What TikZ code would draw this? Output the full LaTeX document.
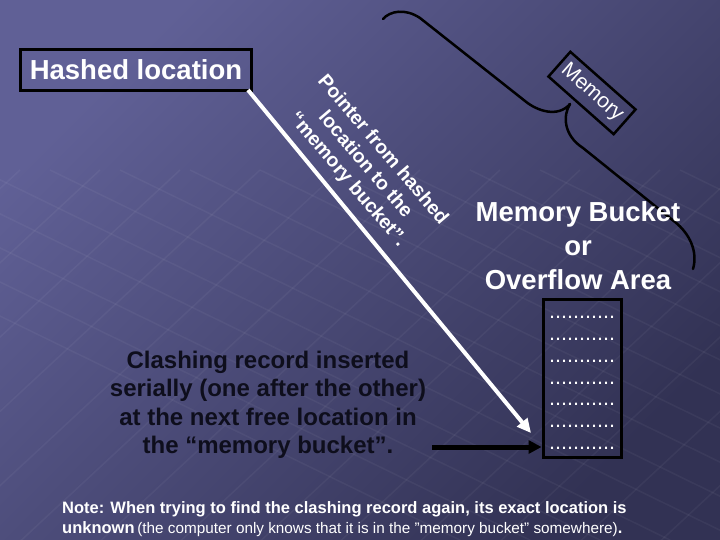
\documentclass[tikz,border=0pt]{standalone}
\usepackage{fontspec}
\setmainfont{Liberation Sans}
\usetikzlibrary{arrows.meta}
\definecolor{bgtl}{RGB}{96,96,150}
\definecolor{bgmid}{RGB}{78,78,126}
\definecolor{bgbr}{RGB}{50,50,84}
\definecolor{clashcol}{RGB}{14,14,28}
\tikzset{
  boxline/.style={draw=black, line width=3pt},
  whitetxt/.style={text=white},
  bracestyle/.style={draw=black, line width=2.5pt, line cap=round},
  whitearrow/.style={draw=white, line width=4pt, -{Triangle[length=14pt,width=13pt]}},
  blackarrow/.style={draw=black, line width=5pt, -{Triangle[length=13pt,width=13pt]}},
  dotrow/.style={text=white, font=\fontsize{21.6}{22}\selectfont, inner sep=0pt, anchor=base},
  gridline/.style={draw=white, line width=1.5pt, opacity=0.045},
}
\begin{document}
\begin{tikzpicture}[x=1pt,y=-1pt]
\useasboundingbox (0,0) rectangle (720,540);
\shade[top color=bgtl, middle color=bgmid, bottom color=bgbr, shading angle=45] (0,0) rectangle (720,540);

% faint background net
\begin{scope}
\clip (0,170) rectangle (720,540);
\foreach \k in {-400,-320,...,800}{
  \draw[gridline] (\k,560) -- (\k+420,170);
}
\foreach \k in {-300,-230,...,700}{
  \draw[gridline] (\k,170) -- (\k+760,540);
}
\end{scope}

% Hashed location box
\node[boxline, whitetxt, font=\bfseries\fontsize{27.5}{32}\selectfont, minimum width=231pt, minimum height=41pt, inner sep=0pt] (hashed) at (136,70) {Hashed location};

% Brace
\draw[bracestyle] (383,19) .. controls (390,11) and (405,8) .. (420,18) -- (525,101) .. controls (537,111) and (558,118) .. (570,104);
\draw[bracestyle] (570,104) .. controls (563,115) and (563,135) .. (583,148) -- (675,222) .. controls (690,234) and (698,252) .. (693,269);

% Memory label
\node[draw=black, line width=2.5pt, whitetxt, rotate=-41.5, minimum width=87pt, minimum height=33pt, inner sep=0pt, font=\fontsize{21}{24}\selectfont] (memlbl) at (592,93) {Memory};

% Pointer text
\node[whitetxt, rotate=-49.5, align=center, font=\bfseries\fontsize{19.5}{23}\selectfont] (ptext) at (365,165) {Pointer from hashed\\location to the\\“memory bucket”.};

% Memory bucket text
\node[whitetxt, align=center, font=\bfseries\fontsize{27.5}{34}\selectfont] (mbtext) at (578,246) {Memory Bucket\\or\\Overflow Area};

% Bucket box
\node[boxline, minimum width=78pt, minimum height=158pt, inner sep=0pt] (bucket) at (582,378) {};
\foreach \i/\yy in {1/318,2/340,3/362.5,4/384,5/405,6/427,7/449}{
  \node[dotrow] (dots\i) at (582,\yy) {...........};
}

% White pointer arrow
\coordinate (ptip) at (531,433);
\draw[whitearrow] ([xshift=-5pt,yshift=2pt]hashed.south east) -- (ptip);

% Clashing text
\node[text=clashcol, align=center, font=\bfseries\fontsize{24}{28.5}\selectfont] (clash) at (268,405) {Clashing record inserted\\serially (one after the other)\\at the next free location in\\the “memory bucket”.};

% Black arrow
\coordinate (astart) at (432,447);
\draw[blackarrow] (astart) -- (bucket.west |- astart);

% Note
\node[whitetxt, anchor=base west, inner sep=0pt, font=\bfseries\fontsize{16.5}{20}\selectfont] (note1) at (62,513) {Note: When trying to find the clashing record again, its exact location is};
\node[whitetxt, anchor=base west, inner sep=0pt] (note2) at (62,533) {{\bfseries\fontsize{16.5}{20}\selectfont unknown} {\fontsize{15.3}{20}\selectfont(the computer only knows that it is in the "memory bucket" somewhere)}{\bfseries\fontsize{16.5}{20}\selectfont .}};
\end{tikzpicture}
\end{document}
